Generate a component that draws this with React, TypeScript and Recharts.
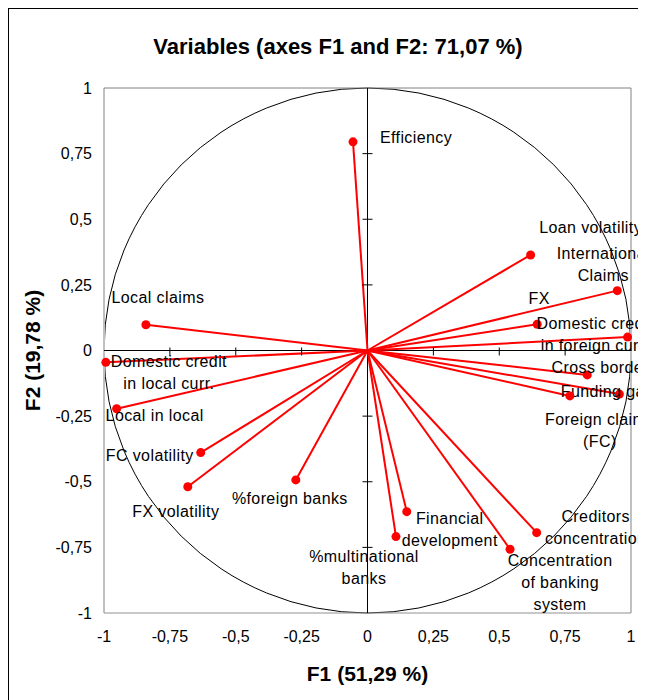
import React from 'react'
import { ScatterChart, Scatter, XAxis, YAxis, ReferenceLine, ReferenceArea, ReferenceDot } from 'recharts'

// PCA correlation circle, factors F1 / F2
const variableNames = [
  'Efficiency',
  'Local claims',
  'Domestic credit in local curr.',
  'Local in local',
  'FC volatility',
  'FX volatility',
  '%foreign banks',
  '%multinational banks',
  'Financial development',
  'Concentration of banking system',
  'Creditors concentration',
  'Loan volatility',
  'International Claims',
  'FX',
  'Domestic credit in foreign curr.',
  'Cross border',
  'Funding gap',
  'Foreign claims (FC)',
]

const f1Values = [
  -0.055, -0.841, -0.993, -0.952, -0.633, -0.682, -0.272, 0.108, 0.149,
  0.541, 0.642, 0.619, 0.948, 0.644, 0.987, 0.834, 0.956, 0.768,
]

const f2Values = [
  0.795, 0.098, -0.045, -0.222, -0.389, -0.519, -0.493, -0.709, -0.614,
  -0.757, -0.694, 0.364, 0.228, 0.1, 0.051, -0.093, -0.166, -0.173,
]

const axisTicks = [-1, -0.75, -0.5, -0.25, 0, 0.25, 0.5, 0.75, 1]

// where each label sits relative to its point (px), and how it wraps
const labelLayout: Record<string, { lines: string[]; dx: number; dy: number }> = {
  'Efficiency': { lines: ['Efficiency'], dx: 63, dy: 1 },
  'Local claims': { lines: ['Local claims'], dx: 12, dy: -22 },
  'Domestic credit in local curr.': { lines: ['Domestic credit', 'in local curr.'], dx: 63, dy: 5 },
  'Local in local': { lines: ['Local in local'], dx: 38, dy: 12 },
  'FC volatility': { lines: ['FC volatility'], dx: -51, dy: 8 },
  'FX volatility': { lines: ['FX volatility'], dx: -12, dy: 30 },
  '%foreign banks': { lines: ['%foreign banks'], dx: -6, dy: 24 },
  '%multinational banks': { lines: ['%multinational', 'banks'], dx: -32, dy: 25 },
  'Financial development': { lines: ['Financial', 'development'], dx: 43, dy: 12 },
  'Concentration of banking system': { lines: ['Concentration', 'of banking', 'system'], dx: 50, dy: 17 },
  'Creditors concentration': { lines: ['Creditors', 'concentration'], dx: 59, dy: -11 },
  'Loan volatility': { lines: ['Loan volatility'], dx: 60, dy: -22 },
  'International Claims': { lines: ['International', 'Claims'], dx: -14, dy: -32 },
  'FX': { lines: ['FX'], dx: 2, dy: -20 },
  'Domestic credit in foreign curr.': { lines: ['Domestic credit', 'in foreign curr.'], dx: -33, dy: -8 },
  'Cross border': { lines: ['Cross border'], dx: 13, dy: -2 },
  'Funding gap': { lines: ['Funding gap'], dx: -12, dy: 3 },
  'Foreign claims (FC)': { lines: ['Foreign claims', '(FC)'], dx: 30, dy: 29 },
}

const FONT = '"Liberation Sans", Arial, sans-serif'
const RED = '#ff0000'

const fmt = (v: number) => String(v).replace('.', ',')

const VariableDot = (props: any) => {
  const { cx, cy, payload } = props
  const layout = labelLayout[payload.name]
  const lx = cx + layout.dx
  return (
    <g>
      <circle cx={cx} cy={cy} r={4.5} fill={RED} />
      <text
        x={lx}
        y={cy + layout.dy}
        textAnchor="middle"
        fontSize={16}
        fontFamily={FONT}
        letterSpacing={0.4}
        fill="#000"
      >
        {layout.lines.map((line, i) => (
          <tspan key={i} x={lx} dy={i === 0 ? 0 : 22}>{line}</tspan>
        ))}
      </text>
    </g>
  )
}

export default function App() {
  const data = variableNames.map((name, i) => ({ name, x: f1Values[i], y: f2Values[i] }))
  const innerTicks = axisTicks.filter((t) => t !== 0 && Math.abs(t) < 1)

  return (
    <div style={{ position: 'relative', width: 660, height: 700, overflow: 'hidden' }}>
      <style>{'html,body{overflow:hidden}'}</style>
      <ScatterChart width={660} height={700} margin={{ top: 80, right: 37, bottom: 0, left: 0 }}>
        <XAxis
          type="number"
          dataKey="x"
          domain={[-1, 1]}
          ticks={axisTicks}
          interval={0}
          tickFormatter={fmt}
          axisLine={false}
          tickLine={false}
          tickSize={0}
          tickMargin={18}
          height={95}
          tick={{ fill: '#000', fontSize: 16, fontFamily: FONT }}
        />
        <YAxis
          type="number"
          dataKey="y"
          domain={[-1, 1]}
          ticks={axisTicks}
          interval={0}
          tickFormatter={fmt}
          axisLine={false}
          tickLine={false}
          tickSize={0}
          tickMargin={12}
          width={96}
          tick={{ fill: '#000', fontSize: 16, fontFamily: FONT }}
        />

        {/* plot frame */}
        <ReferenceLine x={-1} stroke="#c0c0c0" strokeWidth={2} />
        <ReferenceLine x={1} stroke="#c0c0c0" strokeWidth={2} />
        <ReferenceLine y={1} stroke="#808080" strokeWidth={1} />
        <ReferenceLine y={-1} stroke="#909090" strokeWidth={1} />

        {/* unit circle */}
        <ReferenceArea
          x1={-1}
          x2={1}
          y1={-1}
          y2={1}
          shape={(p: any) => (
            <ellipse
              cx={p.x + p.width / 2}
              cy={p.y + p.height / 2}
              rx={p.width / 2}
              ry={p.height / 2}
              fill="none"
              stroke="#000"
              strokeWidth={1}
            />
          )}
        />

        {/* axes through the origin */}
        <ReferenceLine x={0} stroke="#000" strokeWidth={1} />
        <ReferenceLine y={0} stroke="#000" strokeWidth={1} />
        {innerTicks.map((t) => (
          <ReferenceDot
            key={'h' + t}
            x={t}
            y={0}
            shape={(p: any) => <line x1={p.cx} x2={p.cx} y1={p.cy - 3} y2={p.cy + 5} stroke="#000" />}
          />
        ))}
        {innerTicks.map((t) => (
          <ReferenceDot
            key={'v' + t}
            x={0}
            y={t}
            shape={(p: any) => <line x1={p.cx - 5} x2={p.cx + 5} y1={p.cy} y2={p.cy} stroke="#000" />}
          />
        ))}

        {/* vectors */}
        {data.map((d) => (
          <ReferenceLine
            key={d.name}
            segment={[{ x: 0, y: 0 }, { x: d.x, y: d.y }]}
            stroke={RED}
            strokeWidth={2}
          />
        ))}

        <Scatter data={data} fill={RED} shape={VariableDot} isAnimationActive={false} />

        <text x={330} y={46} textAnchor="middle" fontSize={22} fontWeight="bold" fontFamily={FONT} fill="#000">
          Variables (axes F1 and F2: 71,07 %)
        </text>
        <text x={359.5} y={673} textAnchor="middle" fontSize={21} fontWeight="bold" fontFamily={FONT} fill="#000">
          F1 (51,29 %)
        </text>
        <text
          x={32}
          y={342.5}
          textAnchor="middle"
          fontSize={21}
          fontWeight="bold"
          fontFamily={FONT}
          fill="#000"
          transform="rotate(-90, 32, 342.5)"
        >
          F2 (19,78 %)
        </text>
      </ScatterChart>
      <div
        style={{
          position: 'absolute',
          left: 0,
          top: 0,
          width: 700,
          height: 720,
          border: '1px solid #000',
          pointerEvents: 'none',
        }}
      />
    </div>
  )
}
